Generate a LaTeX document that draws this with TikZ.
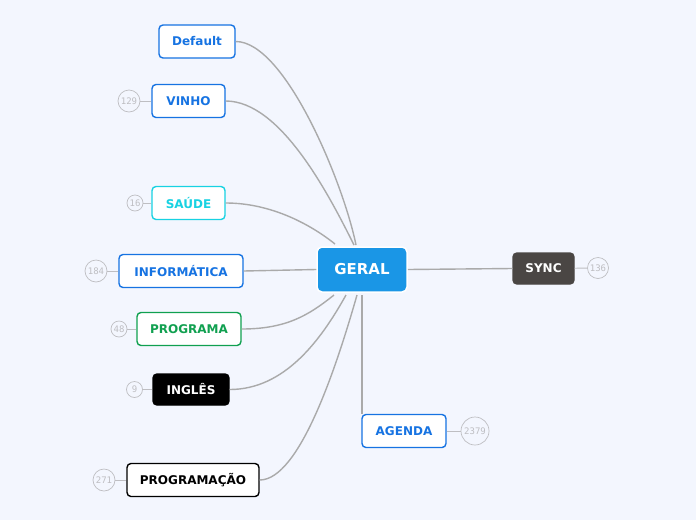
\documentclass[tikz,border=0pt]{standalone}
\usepackage{fontspec}
\setmainfont{DejaVu Sans}
\newfontfamily\cntfont{DejaVu Sans Mono}
\definecolor{bgc}{RGB}{243,246,254}
\definecolor{bluec}{RGB}{22,115,226}
\definecolor{cyanc}{RGB}{24,210,226}
\definecolor{greenc}{RGB}{16,160,80}
\definecolor{gerc}{RGB}{26,150,230}
\definecolor{syncc}{RGB}{74,70,68}
\definecolor{linec}{RGB}{170,170,170}
\definecolor{cntc}{RGB}{190,190,194}
\begin{document}
\begin{tikzpicture}[x=1pt,y=-1pt,
  topic/.style={draw=bluec, fill=white, text=bluec, line width=1.4pt, rounded corners=4pt,
    font=\fontsize{12}{14}\selectfont\bfseries, inner sep=0pt, minimum height=33pt},
  conn/.style={draw=linec, line width=1.4pt},
  thin/.style={draw=cntc, line width=0.9pt},
  cnt/.style={circle, draw=cntc, line width=0.7pt, text=cntc, inner sep=0pt,
    font=\cntfont\fontsize{9}{10}\selectfont}]
\fill[bgc] (0,0) rectangle (696,520);
\useasboundingbox (0,0) rectangle (696,520);

% central
\node[draw=white, fill=gerc, text=white, line width=1.5pt, rounded corners=5pt,
  minimum width=90pt, minimum height=45pt, inner sep=0pt,
  font=\fontsize{15}{17}\selectfont\bfseries] (g) at (362,269.5) {GERAL};

% topics
\node[topic, minimum width=76pt] (def) at (197,41.5) {Default};
\node[topic, minimum width=73pt] (vin) at (188.5,101) {VINHO};
\node[topic, minimum width=73pt, draw=cyanc, text=cyanc] (sau) at (188.5,203) {SAÚDE};
\node[topic, minimum width=124pt] (inf) at (181,271) {INFORMÁTICA};
\node[topic, minimum width=104pt, draw=greenc, text=greenc] (prg) at (189,329) {PROGRAMA};
\node[topic, minimum width=76pt, minimum height=31pt, fill=black, draw=black, text=white] (ing) at (191,389.5) {INGLÊS};
\node[topic, minimum width=132pt, draw=black, text=black] (pgc) at (193,480) {PROGRAMAÇÃO};
\node[topic, minimum width=84pt] (age) at (404,431) {AGENDA};
\node[topic, minimum width=61pt, minimum height=31pt, fill=syncc, draw=syncc, text=white] (syn) at (543.5,268.5) {SYNC};

% counters
\node[cnt, minimum size=22pt] (cvin) at (129,101) {129};
\node[cnt, minimum size=16pt] (csau) at (135,203) {16};
\node[cnt, minimum size=22pt] (cinf) at (96,271) {184};
\node[cnt, minimum size=16pt] (cprg) at (119,329) {48};
\node[cnt, minimum size=16pt] (cing) at (134.5,389.5) {9};
\node[cnt, minimum size=22pt] (cpgc) at (104,480) {271};
\node[cnt, minimum size=28pt] (cage) at (475,431) {2379};
\node[cnt, minimum size=21pt] (csyn) at (598,268) {136};

\draw[thin] (cvin) -- (vin);
\draw[thin] (csau) -- (sau);
\draw[thin] (cinf) -- (inf);
\draw[thin] (cprg) -- (prg);
\draw[thin] (cing) -- (ing);
\draw[thin] (cpgc) -- (pgc);
\draw[thin] (cage) -- (age);
\draw[thin] (csyn) -- (syn);

% attachment points on GERAL
\coordinate (t1) at (356,245);
\coordinate (t2) at (354,245);
\coordinate (t3) at (335,244);
\coordinate (b1) at (334,295);
\coordinate (b2) at (346,295);
\coordinate (b3) at (357,295);
\coordinate (b4) at (362,295);

\draw[conn] (def.east) .. controls +(50,0) and +(-12,-60) .. (t1);
\draw[conn] (vin.east) .. controls +(55,0) and +(-25,-50) .. (t2);
\draw[conn] (sau.east) .. controls +(45,0) and +(-25,-20) .. (t3);
\draw[conn] (inf.east) -- (g.west);
\draw[conn] (prg.east) .. controls +(45,0) and +(-25,20) .. (b1);
\draw[conn] (ing.east) .. controls +(55,0) and +(-25,45) .. (b2);
\draw[conn] (pgc.east) .. controls +(40,0) and +(-20,70) .. (b3);
\draw[conn] (b4) -- (age.north west -| b4);
\draw[conn] (g.east) -- (syn.west);
\end{tikzpicture}
\end{document}
